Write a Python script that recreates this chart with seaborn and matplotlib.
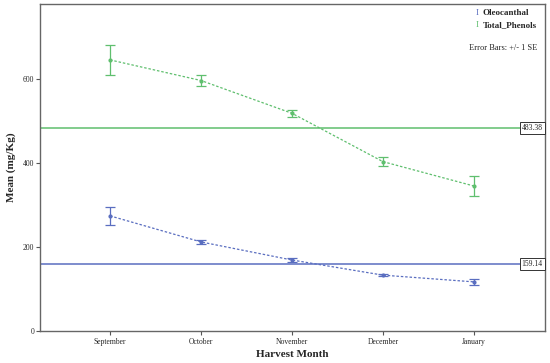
import matplotlib
matplotlib.use("Agg")
import matplotlib.pyplot as plt
import seaborn as sns
import pandas as pd

sns.set_style("white")
plt.rcParams["font.family"] = ["Liberation Serif", "DejaVu Serif"]

# data
months = ["September", "October", "November", "December", "January"]
phenols_mean = [645, 596, 518, 403, 345]
phenols_se = [35, 13, 8, 10, 24]
oleo_mean = [274, 212, 169, 133, 117]
oleo_se = [21, 5, 4, 3, 8]
phenols_ref = 483.38
oleo_ref = 159.14

green = "#5fbf6e"
blue = "#5a6ec0"

df = pd.DataFrame({
    "month": months * 2,
    "pos": list(range(len(months))) * 2,
    "mean": oleo_mean + phenols_mean,
    "se": oleo_se + phenols_se,
    "series": ["Oleocanthal"] * 5 + ["Total_Phenols"] * 5,
})

fig = plt.figure(figsize=(5.5, 3.63), dpi=100)
ax = fig.add_axes([0.0727, 0.088, 0.918, 0.901])

sns.lineplot(data=df, x="pos", y="mean", hue="series",
             palette={"Oleocanthal": blue, "Total_Phenols": green},
             marker="o", markersize=3, markeredgewidth=0, linestyle=(0, (2, 1.5)),
             linewidth=0.9, legend=False, ax=ax)

for name, col in [("Oleocanthal", blue), ("Total_Phenols", green)]:
    sub = df[df["series"] == name]
    ax.errorbar(sub["pos"], sub["mean"], yerr=sub["se"], fmt="none",
                ecolor=col, elinewidth=0.9, capsize=3.5, capthick=0.9)

ax.axhline(phenols_ref, color=green, lw=1.1)
ax.axhline(oleo_ref, color=blue, lw=1.1)
for val in [phenols_ref, oleo_ref]:
    ax.text(4.755, val, f"{val:.2f}", ha="right", va="center", fontsize=5.5,
            bbox=dict(boxstyle="square,pad=0.25", fc="white", ec="#333333", lw=0.7))

ax.set_xlim(-0.77, 4.78)
ax.set_ylim(0, 778)
ax.set_xticks(range(len(months)))
ax.set_xticklabels(months, fontsize=5.5)
ax.set_yticks([0, 200, 400, 600])
ax.tick_params(axis="y", labelsize=5.5, length=3, width=0.8, color="#555555", pad=1)
ax.tick_params(axis="x", length=3, width=0.8, color="#555555", pad=2)
ax.tick_params(left=True, bottom=True)
for s in ax.spines.values():
    s.set_color("#666666")
    s.set_linewidth(1.0)

ax.set_xlabel("Harvest Month", fontsize=8, fontweight="bold", labelpad=3)
ax.set_ylabel("Mean (mg/Kg)", fontsize=8, fontweight="bold", labelpad=5)

# legend
ax.text(0.865, 0.972, "I", transform=ax.transAxes, color=blue, fontsize=6.5, ha="center", va="center")
ax.text(0.877, 0.972, "Oleocanthal", transform=ax.transAxes, fontsize=6.5, fontweight="bold", va="center")
ax.text(0.865, 0.936, "I", transform=ax.transAxes, color=green, fontsize=6.5, ha="center", va="center")
ax.text(0.877, 0.936, "Total_Phenols", transform=ax.transAxes, fontsize=6.5, fontweight="bold", va="center")
ax.text(0.985, 0.865, "Error Bars: +/- 1 SE", transform=ax.transAxes, fontsize=6, ha="right", va="center")

fig.savefig("out.png", dpi=100)
